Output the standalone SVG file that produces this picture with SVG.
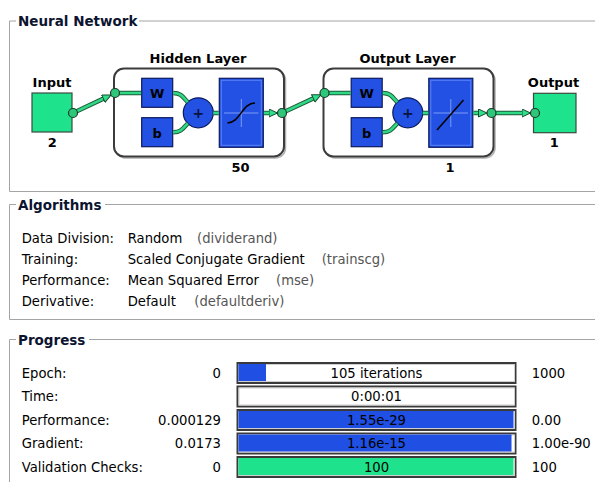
<svg xmlns="http://www.w3.org/2000/svg" width="595" height="482" viewBox="0 0 595 482">
<style>
.frame{fill:none;stroke:#a4a4a4;stroke-width:1}
.title{font-family:"DejaVu Sans",sans-serif;font-weight:bold;font-size:13.5px;fill:#0c1430}
.lbl{font-family:"DejaVu Sans",sans-serif;font-weight:bold;font-size:13px;fill:#000}
.txt{font-family:"DejaVu Sans",sans-serif;font-size:13.2px;fill:#000}
.par{fill:#555}
.mid{text-anchor:middle}
.end{text-anchor:end}
.layer{fill:#fff;stroke:#3c3c3c;stroke-width:2}
.shadow{fill:none;stroke:#b0b0b0;stroke-width:1.5}
.blue{fill:#2251e3;stroke:#0c1a5e;stroke-width:1.2}
.bevel{fill:none;stroke:#5a82f5;stroke-width:1}
.green{fill:#1fe38c;stroke:#3a4a40;stroke-width:1.2}
.wire-bg{fill:none;stroke:#1d5a3a;stroke-width:4.5}
.wire{fill:none;stroke:#2fd884;stroke-width:2.6}
.dot{fill:#2ec77a;stroke:#1b3b2a;stroke-width:1.2}
.cross{stroke:#7d9cf5;stroke-width:1;fill:none}
.curve{stroke:#000;stroke-width:1.6;fill:none}
.bar{fill:#fff;stroke:#3a3a3a;stroke-width:2}
.inner{fill:none;stroke:#cfcfcf;stroke-width:1}
.bfill{fill:#1f4fe3}
.gfill{fill:#1fe38c}
</style>
<defs>
<marker id="ah" markerUnits="userSpaceOnUse" markerWidth="12" markerHeight="10" refX="3" refY="4.5" orient="auto" viewBox="0 0 12 10">
<path d="M0.5,0.5 L9,4.5 L0.5,8.5 Z" fill="#2fe08a" stroke="#1b4a30" stroke-width="1"/>
</marker>
</defs>
<rect x="0" y="0" width="595" height="482" fill="#fff"/>

<g id="frames">
<path class="frame" d="M16,21 H9.5 V191.5 H595 M139,21 H595"/>
<text class="title" x="18" y="25.5">Neural Network</text>
<path class="frame" d="M16,204.5 H9.5 V319.5 H595 M105,204.5 H595"/>
<text class="title" x="18" y="209.5">Algorithms</text>
<path class="frame" d="M16,339.5 H9.5 V482 M89,339.5 H595"/>
<text class="title" x="18" y="344.5">Progress</text>
</g>

<g id="input">
<rect class="green" x="32" y="93" width="40" height="39"/>
<text class="lbl mid" x="52" y="87.3">Input</text>
<text class="lbl mid" x="52.3" y="146.7">2</text>
</g>

<g id="hidden-layer">
<rect class="shadow" x="115.5" y="70" width="170" height="88" rx="10"/>
<rect class="layer" x="114" y="68.5" width="170" height="88" rx="10"/>
<text class="lbl mid" x="198" y="62.5">Hidden Layer</text>
<text class="lbl mid" x="240.5" y="171.7">50</text>
<rect class="blue" x="141.7" y="78.3" width="31" height="29"/>
<text class="lbl mid" x="157.2" y="98.3">W</text>
<rect class="blue" x="141.7" y="117.7" width="31" height="29"/>
<text class="lbl mid" x="157.2" y="137.7">b</text>
<circle class="blue" cx="198.3" cy="112.8" r="15"/>
<text class="lbl mid" x="198.3" y="117.6" style="fill:#0a1440;font-size:14px">+</text>
<rect class="blue" x="219.3" y="78.3" width="44" height="69"/>
<rect class="bevel" x="221.3" y="80.3" width="40" height="65"/>
<path class="cross" d="M224,113 H258.5 M241.3,99 V127"/>
<path class="curve" d="M227.5,123 C240,123 242,103 255,103"/>
</g>

<g id="output-layer" transform="translate(209.5,0)">
<rect class="shadow" x="115.5" y="70" width="170" height="88" rx="10"/>
<rect class="layer" x="114" y="68.5" width="170" height="88" rx="10"/>
<text class="lbl mid" x="198" y="62.5">Output Layer</text>
<text class="lbl mid" x="240.5" y="171.7">1</text>
<rect class="blue" x="141.7" y="78.3" width="31" height="29"/>
<text class="lbl mid" x="157.2" y="98.3">W</text>
<rect class="blue" x="141.7" y="117.7" width="31" height="29"/>
<text class="lbl mid" x="157.2" y="137.7">b</text>
<circle class="blue" cx="198.3" cy="112.8" r="15"/>
<text class="lbl mid" x="198.3" y="117.6" style="fill:#0a1440;font-size:14px">+</text>
<rect class="blue" x="219.3" y="78.3" width="44" height="69"/>
<rect class="bevel" x="221.3" y="80.3" width="40" height="65"/>
<path class="cross" d="M224,113 H258.5 M241.3,99 V127"/>
<path class="curve" d="M227.5,130 L254,100"/>
</g>

<g id="output">
<rect class="green" x="533.5" y="93.3" width="42.5" height="39.4"/>
<text class="lbl mid" x="553.5" y="87.3">Output</text>
<text class="lbl mid" x="554.3" y="147">1</text>
</g>

<g id="connectors">
<path class="wire-bg" d="M73,113 L105.6,97.6"/>
<path class="wire" d="M73,113 L105.6,97.6" marker-end="url(#ah)"/>
<path class="wire-bg" d="M282,113 L315.5,97.4"/>
<path class="wire" d="M282,113 L315.5,97.4" marker-end="url(#ah)"/>
<path class="wire-bg" d="M491.5,113 L524.5,113"/>
<path class="wire" d="M491.5,113 L524.5,113" marker-end="url(#ah)"/>
<g id="hidden-wires">
<path class="wire-bg" d="M115,93 H141.1 M173.3,93 C181,93 183,97 187.7,102.2 M173.3,132.2 C181,132.2 183,128.5 187.7,123.4 M213.3,113 H218.7 M263.9,113 H271.5"/>
<path class="wire" d="M115,93 H141.1 M173.3,93 C181,93 183,97 187.7,102.2 M173.3,132.2 C181,132.2 183,128.5 187.7,123.4 M213.3,113 H218.7"/>
<path class="wire" d="M263.9,113 H271.5" marker-end="url(#ah)"/>
</g>
<g id="output-wires" transform="translate(209.5,0)">
<path class="wire-bg" d="M115,93 H141.1 M173.3,93 C181,93 183,97 187.7,102.2 M173.3,132.2 C181,132.2 183,128.5 187.7,123.4 M213.3,113 H218.7 M263.9,113 H271.5"/>
<path class="wire" d="M115,93 H141.1 M173.3,93 C181,93 183,97 187.7,102.2 M173.3,132.2 C181,132.2 183,128.5 187.7,123.4 M213.3,113 H218.7"/>
<path class="wire" d="M263.9,113 H271.5" marker-end="url(#ah)"/>
</g>
</g>

<g id="ports">
<circle class="dot" cx="73" cy="113" r="4.5"/>
<circle class="dot" cx="115" cy="93" r="4.5"/>
<circle class="dot" cx="282" cy="113" r="4.5"/>
<circle class="dot" cx="324.5" cy="93" r="4.5"/>
<circle class="dot" cx="491.5" cy="113" r="4.5"/>
<circle class="dot" cx="535" cy="113" r="4.5"/>
</g>

<g id="algorithms">
<text class="txt" x="21.7" y="243.3">Data Division:</text>
<text class="txt" x="127.7" y="243.3">Random</text>
<text class="txt par" x="197" y="243.3">(dividerand)</text>
<text class="txt" x="21.7" y="264.3">Training:</text>
<text class="txt" x="127.7" y="264.3">Scaled Conjugate Gradient</text>
<text class="txt par" x="321.7" y="264.3">(trainscg)</text>
<text class="txt" x="21.7" y="285">Performance:</text>
<text class="txt" x="127.7" y="285">Mean Squared Error</text>
<text class="txt par" x="276" y="285">(mse)</text>
<text class="txt" x="21.7" y="305.5">Derivative:</text>
<text class="txt" x="127.7" y="305.5">Default</text>
<text class="txt par" x="194.3" y="305.5">(defaultderiv)</text>
</g>

<g id="progress">
<text class="txt" x="21.7" y="377.8">Epoch:</text>
<text class="txt end" x="221" y="377.8">0</text>
<rect class="bar" x="237.5" y="363" width="278" height="20"/>
<rect class="inner" x="239" y="364.5" width="275.5" height="17"/>
<rect class="bfill" x="238.5" y="364" width="27.5" height="17"/>
<text class="txt mid" x="376.5" y="377.8">105 iterations</text>
<text class="txt" x="531.7" y="377.8">1000</text>

<text class="txt" x="21.7" y="401.3">Time:</text>
<rect class="bar" x="237.5" y="386.5" width="278" height="20"/>
<rect class="inner" x="239" y="388" width="275.5" height="17"/>
<text class="txt mid" x="376.5" y="401.3">0:00:01</text>

<text class="txt" x="21.7" y="424.8">Performance:</text>
<text class="txt end" x="221" y="424.8">0.000129</text>
<rect class="bar" x="237.5" y="410" width="278" height="20"/>
<rect class="inner" x="239" y="411.5" width="275.5" height="17"/>
<rect class="bfill" x="238.5" y="411" width="275" height="17"/>
<text class="txt mid" x="376.5" y="424.8">1.55e-29</text>
<text class="txt" x="531.7" y="424.8">0.00</text>

<text class="txt" x="21.7" y="448.3">Gradient:</text>
<text class="txt end" x="221" y="448.3">0.0173</text>
<rect class="bar" x="237.5" y="433.5" width="278" height="20"/>
<rect class="inner" x="239" y="435" width="275.5" height="17"/>
<rect class="bfill" x="238.5" y="434.5" width="273" height="17"/>
<text class="txt mid" x="376.5" y="448.3">1.16e-15</text>
<text class="txt" x="531.7" y="448.3">1.00e-90</text>

<text class="txt" x="21.7" y="471.8">Validation Checks:</text>
<text class="txt end" x="221" y="471.8">0</text>
<rect class="bar" x="237.5" y="457" width="278" height="20"/>
<rect class="inner" x="239" y="458.5" width="275.5" height="17"/>
<rect class="gfill" x="238.5" y="458" width="275" height="17"/>
<text class="txt mid" x="376.5" y="471.8">100</text>
<text class="txt" x="531.7" y="471.8">100</text>
</g>
</svg>
